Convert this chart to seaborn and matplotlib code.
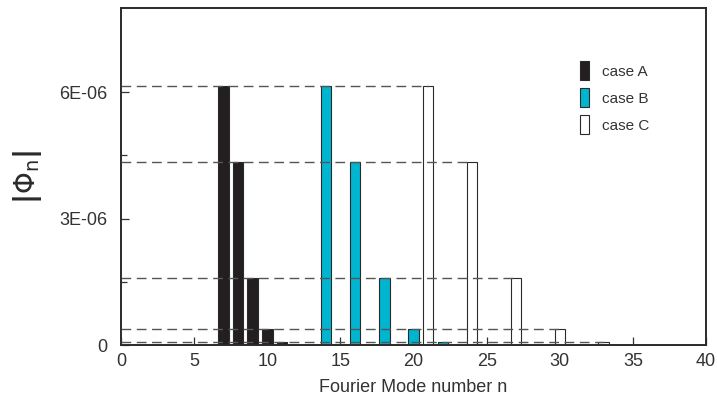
import matplotlib
matplotlib.use("Agg")
import matplotlib.pyplot as plt
from matplotlib.patches import Patch
import pandas as pd
import seaborn as sns

# Fourier mode numbers for each case
modes_a = [7, 8, 9, 10, 11, 12]
modes_b = [14, 16, 18, 20, 22, 24]
modes_c = [21, 24, 27, 30, 33, 36]
# |Phi_n| amplitudes (shared by all three cases)
amplitudes = [6.15e-6, 4.35e-6, 1.60e-6, 0.38e-6, 0.06e-6, 0.01e-6]
case_names = ["case A", "case B", "case C"]
case_colors = ["#231f20", "#00b5cf", "#ffffff"]
x_ticks = [0, 5, 10, 15, 20, 25, 30, 35, 40]
y_ticks = [0, 3e-6, 6e-6]
y_tick_labels = ["0", "3E-06", "6E-06"]

rows = []
for name, modes in zip(case_names, [modes_a, modes_b, modes_c]):
    for n, v in zip(modes, amplitudes):
        rows.append({"n": n, "amp": v, "case": name})
df = pd.DataFrame(rows)

sns.set_style("ticks")
plt.rcParams["font.family"] = ["Liberation Sans", "DejaVu Sans"]
plt.rcParams["mathtext.fontset"] = "dejavusans"

fig = plt.figure(figsize=(7.17, 4.03), dpi=100)
ax = fig.add_axes([0.1688, 0.1439, 0.8159, 0.8361])

sns.barplot(data=df, x="n", y="amp", hue="case", hue_order=case_names,
            palette=dict(zip(case_names, case_colors)), native_scale=True,
            dodge=False, width=0.72, saturation=1, edgecolor="#2a2a2a",
            linewidth=0.8, legend=False, ax=ax, zorder=2)

# dashed guide lines from the axis to the case C bars
ax.hlines(amplitudes[:5], 0, modes_c[:5], colors="#555555", linewidth=1.0,
          linestyles=(0, (7, 4)), zorder=3)

ax.set_xlim(0, 40)
ax.set_ylim(0, 8e-6)
ax.set_xticks(x_ticks)
ax.set_xticklabels([str(t) for t in x_ticks])
ax.set_yticks(y_ticks)
ax.set_yticklabels(y_tick_labels)
ax.set_yticks([1.5e-6, 4.5e-6], minor=True)
ax.tick_params(axis="both", which="both", direction="in", colors="#333333",
               labelsize=13, length=6, width=0.9, labelcolor="#333333")
ax.tick_params(axis="y", which="minor", length=4)
ax.tick_params(axis="y", pad=10)
ax.tick_params(axis="x", pad=6)

for s in ax.spines.values():
    s.set_visible(True)
    s.set_linewidth(1.4)
    s.set_color("#2a2a2a")

ax.set_xlabel("Fourier Mode number n", fontsize=13, color="#333333", labelpad=6)
ax.set_ylabel(r"$\mathbf{|}\Phi_{\mathrm{n}}\mathbf{|}$", fontsize=20,
              color="#2a2a2a", labelpad=11)

handles = [Patch(facecolor=c, edgecolor="#2a2a2a", linewidth=0.8) for c in case_colors]
ax.legend(handles, case_names, loc="upper left", bbox_to_anchor=(0.772, 0.865),
          frameon=False, fontsize=11, handlelength=0.55, handleheight=1.5,
          handletextpad=0.9, labelspacing=0.55, borderpad=0,
          labelcolor="#333333")

fig.savefig("out.png", dpi=100)
